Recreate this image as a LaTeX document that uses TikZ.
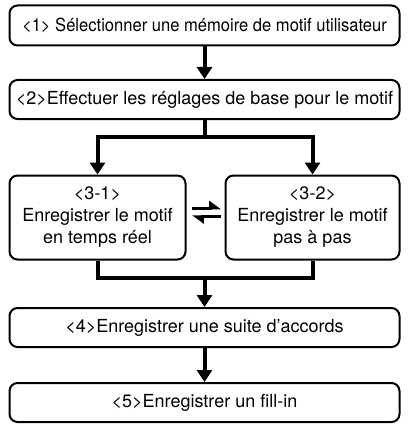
\documentclass[tikz,border=0pt]{standalone}
\usepackage{fontspec}
\setmainfont{TeX Gyre Heros}
\newfontfamily\condfont[FakeStretch=0.92]{TeX Gyre Heros}
\usetikzlibrary{arrows.meta}
\tikzset{
  stepbox/.style={draw=black, line width=2pt, rounded corners=8pt, inner sep=0pt,
    align=center, font=\fontsize{18}{22}\selectfont},
  flow/.style={line width=4pt, line join=miter},
  flowarrow/.style={flow, -{Triangle[width=15pt,length=12pt]}},
  harp/.style={line width=3pt, -{Triangle[harpoon,width=14pt,length=10pt]}}
}
\begin{document}
\begin{tikzpicture}[x=1pt,y=-1pt]
\useasboundingbox (0,0) rectangle (409,425);
\node[stepbox, minimum width=390pt, minimum height=40pt] (b1) at (204.5,25.5)
  {\condfont\fontsize{18}{22}\selectfont <1> Sélectionner une mémoire de motif utilisateur};
\node[stepbox, minimum width=390pt, minimum height=39pt] (b2) at (204.5,99.5)
  {<2>Effectuer les réglages de base pour le motif};
\node[stepbox, minimum width=176pt, minimum height=84pt] (b31) at (97.5,217.5)
  {<3-1>\\Enregistrer le motif\\en temps réel};
\node[stepbox, minimum width=174pt, minimum height=84pt] (b32) at (312.5,217.5)
  {<3-2>\\Enregistrer le motif\\pas à pas};
\node[stepbox, minimum width=390pt, minimum height=39pt] (b4) at (204.5,327.5)
  {<4>Enregistrer une suite d’accords};
\node[stepbox, minimum width=390pt, minimum height=39pt] (b5) at (204.5,402.5)
  {<5>Enregistrer un fill-in};
\coordinate (j1) at (204.5,137);
\coordinate (j2) at (204.5,278);
\draw[flowarrow] (b1.south) -- (b2.north);
\draw[flow] (b2.south) -- (j1);
\draw[flowarrow] (j1) -| (b31.north);
\draw[flowarrow] (j1) -| (b32.north);
\draw[flow] (b31.south) |- (j2);
\draw[flow] (b32.south) |- (j2);
\draw[flowarrow] (j2) -- (b4.north);
\draw[flowarrow] (b4.south) -- (b5.north);
\draw[harp] ([xshift=5.5pt,yshift=9.5pt]b31.east) -- ([xshift=-3.5pt,yshift=9.5pt]b32.west);
\draw[harp] ([xshift=-3.5pt,yshift=1pt]b32.west) -- ([xshift=5.5pt,yshift=1pt]b31.east);
\end{tikzpicture}
\end{document}
